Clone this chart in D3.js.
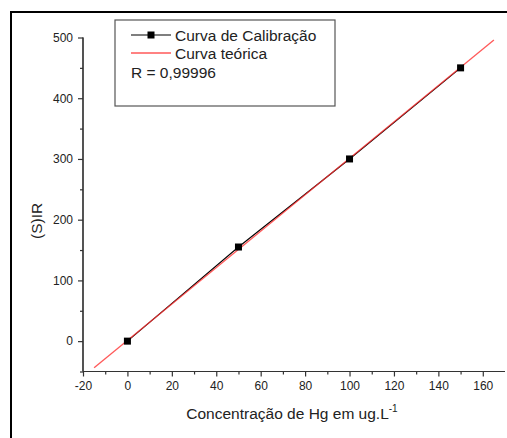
<!DOCTYPE html>
<html>
<head>
<meta charset="utf-8">
<script src="https://cdn.jsdelivr.net/npm/d3@7"></script>
<style>
  body { margin: 0; background: #fff; }
  svg text { font-family: "Liberation Sans", Arial, sans-serif; fill: #222; }
</style>
</head>
<body>
<div id="chart"></div>
<script>
// calibration points
const concentrations = [0, 50, 100, 150];
const signals = [0, 155, 300, 450];
// theoretical line endpoints
const theoX = [-15, 165];
const theoY = [-44, 496];
const xTicks = [-20, 0, 20, 40, 60, 80, 100, 120, 140, 160];
const yTicks = [0, 100, 200, 300, 400, 500];
const legendLabels = ["Curva de Calibração", "Curva teórica", "R = 0,99996"];

const W = 507, H = 438;
const svg = d3.select("#chart").append("svg")
  .attr("width", W).attr("height", H);

// outer frame (only left and top edges fall inside the picture)
svg.append("rect")
  .attr("x", 11).attr("y", 12)
  .attr("width", W).attr("height", H)
  .attr("fill", "none").attr("stroke", "#000").attr("stroke-width", 2);

const x = d3.scaleLinear().domain([-20, 170]).range([83, 505]);
const y = d3.scaleLinear().domain([-50, 500]).range([371.5, 37.5]);

// minor ticks
const xAxisG = svg.append("g").attr("transform", `translate(0,${y(-50)})`);
xAxisG.call(d3.axisBottom(x).tickValues(d3.range(-10, 170, 20)).tickSize(3).tickFormat(""));
xAxisG.append("g").call(d3.axisBottom(x).tickValues(xTicks).tickSize(5).tickPadding(5)
  .tickFormat(d => String(d)));

const yAxisG = svg.append("g").attr("transform", `translate(${x(-20)},0)`);
yAxisG.call(d3.axisLeft(y).tickValues(d3.range(-50, 500, 100)).tickSize(3).tickFormat(""));
yAxisG.append("g").call(d3.axisLeft(y).tickValues(yTicks).tickSize(5).tickPadding(5)
  .tickFormat(d => String(d)));

svg.selectAll(".domain").attr("stroke", "#333").attr("stroke-width", 1.2);
svg.selectAll(".tick line").attr("stroke", "#333").attr("stroke-width", 1.2);
svg.selectAll(".tick text").attr("font-size", 12).attr("fill", "#333");
yAxisG.selectAll(".domain").attr("d", `M0,${y(500)}V${y(-50)}`);
xAxisG.selectAll(".domain").attr("d", `M${x(-20)},0H${x(170)}`);

// axis titles
svg.append("text")
  .attr("transform", `translate(42,${y(198)}) rotate(-90)`)
  .attr("text-anchor", "middle")
  .attr("font-size", 15.5)
  .text("(S)IR");

const xt = svg.append("text")
  .attr("x", 292).attr("y", 419)
  .attr("text-anchor", "middle")
  .attr("font-size", 15.5)
  .text("Concentração de Hg em ug.L");
xt.append("tspan").attr("font-size", 10).attr("dy", -7).text("-1");

// calibration line + points
const calData = concentrations.map((c, i) => ({ c, s: signals[i] }));
const line = d3.line().x(d => x(d.c)).y(d => y(d.s));
svg.append("path")
  .datum(calData)
  .attr("d", line)
  .attr("fill", "none").attr("stroke", "#000").attr("stroke-width", 1.1);

// theoretical line
const theoData = theoX.map((c, i) => ({ c, s: theoY[i] }));
svg.append("path")
  .datum(theoData)
  .attr("d", line)
  .attr("fill", "none").attr("stroke", "#ff3030").attr("stroke-opacity", 0.8).attr("stroke-width", 1.3);

svg.selectAll(".pt")
  .data(calData)
  .enter().append("rect")
  .attr("class", "pt")
  .attr("x", d => x(d.c) - 3.5).attr("y", d => y(d.s) - 3.5)
  .attr("width", 7).attr("height", 7)
  .attr("fill", "#000");

// legend
const lg = svg.append("g");
lg.append("rect")
  .attr("x", 115).attr("y", 20).attr("width", 220).attr("height", 86)
  .attr("fill", "#fff").attr("stroke", "#555").attr("stroke-width", 1.2);
lg.append("line").attr("x1", 131).attr("x2", 171).attr("y1", 35).attr("y2", 35)
  .attr("stroke", "#000").attr("stroke-width", 1.2);
lg.append("rect").attr("x", 147.5).attr("y", 31.5).attr("width", 7).attr("height", 7).attr("fill", "#000");
lg.append("line").attr("x1", 131).attr("x2", 171).attr("y1", 53).attr("y2", 53)
  .attr("stroke", "#ff3030").attr("stroke-opacity", 0.8).attr("stroke-width", 1.3);
lg.append("text").attr("x", 175).attr("y", 41).attr("font-size", 15.5).text(legendLabels[0]);
lg.append("text").attr("x", 175).attr("y", 59).attr("font-size", 15.5).text(legendLabels[1]);
lg.append("text").attr("x", 131).attr("y", 78).attr("font-size", 15.5).text(legendLabels[2]);
</script>
</body>
</html>
